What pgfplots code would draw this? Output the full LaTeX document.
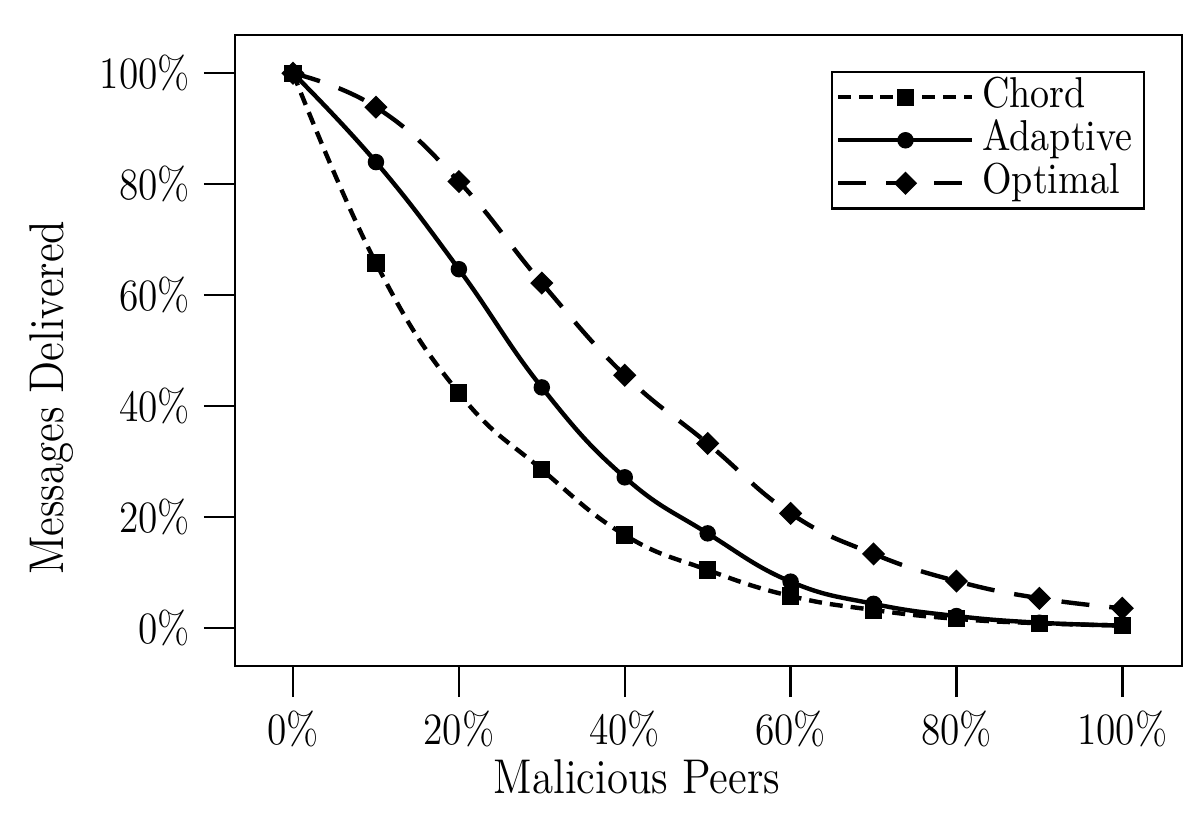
\documentclass[border=0pt]{standalone}
\usepackage{fontspec}
\setmainfont{Latin Modern Roman}[FakeStretch=0.88]
\usepackage{pgfplots}
\pgfplotsset{compat=1.18}
\begin{document}
\begin{tikzpicture}
\useasboundingbox (-58.75pt,-40.5pt) rectangle (241.25pt,166.5pt);
\begin{axis}[
  at={(0pt,0pt)}, anchor=south west,
  scale only axis, width=236.75pt, height=157.75pt,
  xmin=-7, xmax=107.2, ymin=-6.8, ymax=106.9,
  axis line style={line width=0.6pt},
  tick align=outside, major tick length=7.75pt,
  every tick/.style={black, line width=0.6pt},
  xtick={0,20,40,60,80,100}, ytick={0,20,40,60,80,100},
  xticklabels={0\%,20\%,40\%,60\%,80\%,100\%},
  yticklabels={0\%,20\%,40\%,60\%,80\%,100\%},
  xtick pos=left, ytick pos=left,
  tick label style={font=\fontsize{11.2}{13}\selectfont},
  xlabel={Malicious Peers}, ylabel={Messages Delivered},
  label style={font=\fontsize{12.2}{14}\selectfont},
  xlabel style={at={(axis description cs:0.4245,-0.2013)}, anchor=base},
  ylabel style={at={(axis description cs:-0.1816,0.425)}, anchor=base},
  legend style={at={(rel axis cs:0.961,0.943)}, anchor=north east, draw=black, line width=0.6pt,
    inner xsep=1pt, inner ysep=0.9pt,
    font=\fontsize{10.8}{12}\selectfont,
    nodes={inner xsep=1.9pt, inner ysep=0pt, text height=8pt, text depth=2.75pt}},
  legend cell align=left,
  legend image code/.code={\draw[#1, mark repeat=2, mark phase=2] plot coordinates {(0pt,0pt) (16.75pt,0pt) (33.5pt,0pt)};},
]
\addplot[black, line width=1.1pt, dash pattern=on 3.25pt off 2pt, mark=square*, mark size=1.6pt, mark options={solid}, smooth, tension=0.75]
 coordinates {(0,100)(10,65.8)(20,42.4)(30,28.6)(40,16.8)(50,10.5)(60,5.8)(70,3.3)(80,1.7)(90,0.9)(100,0.5)};
\addlegendentry{Chord}
\addplot[black, line width=1.1pt, solid, mark=*, mark size=1.5pt, smooth, tension=0.75]
 coordinates {(0,100)(10,84.0)(20,64.7)(30,43.4)(40,27.2)(50,17.1)(60,8.4)(70,4.4)(80,2.2)(90,1.0)(100,0.5)};
\addlegendentry{Adaptive}
\addplot[black, line width=1.1pt, dash pattern=on 7pt off 5pt, mark=square*, mark size=1.5pt, mark options={solid, rotate=45}, smooth, tension=0.75]
 coordinates {(0,100)(10,93.9)(20,80.5)(30,62.2)(40,45.6)(50,33.3)(60,20.7)(70,13.4)(80,8.5)(90,5.4)(100,3.6)};
\addlegendentry{Optimal}
\end{axis}
\end{tikzpicture}
\end{document}
